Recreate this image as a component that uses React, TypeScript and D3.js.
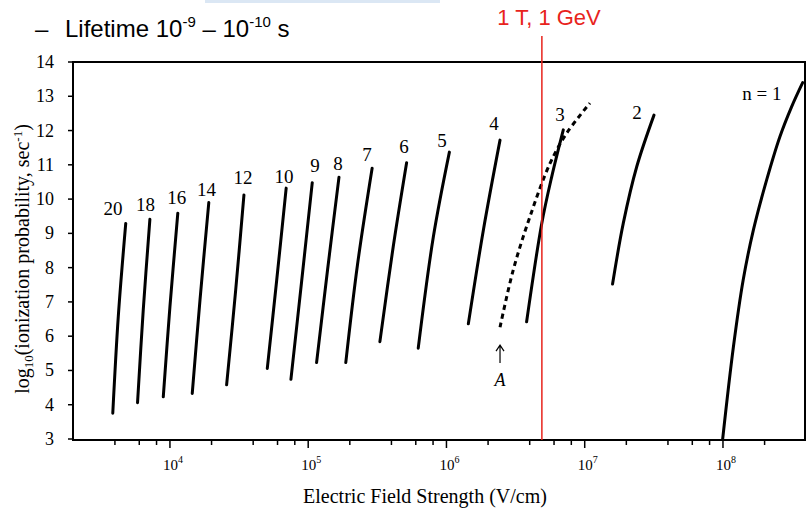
import React from "react";
import * as d3 from "d3";

// ---- data (E in V/cm, log10 ionization rate) ----
const field20 = [3.86e3, 4.23e3, 4.79e3];
const rate20 = [3.75, 6.57, 9.29];
const field18 = [5.83e3, 6.41e3, 7.16e3];
const rate18 = [4.06, 6.76, 9.41];
const field16 = [8.95e3, 1.0e4, 1.14e4];
const rate16 = [4.23, 6.86, 9.59];
const field14 = [1.45e4, 1.65e4, 1.91e4];
const rate14 = [4.33, 7.06, 9.9];
const field12 = [2.57e4, 2.99e4, 3.43e4];
const rate12 = [4.58, 7.35, 10.12];
const field10 = [5.06e4, 5.92e4, 6.93e4];
const rate10 = [5.06, 7.64, 10.32];
const field9 = [7.5e4, 8.97e4, 1.07e5];
const rate9 = [4.74, 7.61, 10.48];
const field8 = [1.15e5, 1.38e5, 1.67e5];
const rate8 = [5.23, 7.93, 10.64];
const field7 = [1.87e5, 2.27e5, 2.9e5];
const rate7 = [5.23, 8.07, 10.9];
const field6 = [3.3e5, 4.12e5, 5.15e5];
const rate6 = [5.84, 8.61, 11.06];
const field5 = [6.25e5, 8.04e5, 1.05e6];
const rate5 = [5.65, 8.9, 11.37];
const field4 = [1.44e6, 1.85e6, 2.44e6];
const rate4 = [6.36, 9.1, 11.72];
const field3 = [3.8e6, 4.89e6, 5.77e6, 7.0e6];
const rate3 = [6.42, 9.29, 10.65, 12.02];
const field2 = [1.59e7, 1.9e7, 2.38e7, 3.17e7];
const rate2 = [7.52, 9.29, 10.95, 12.45];
const field1 = [9.95e7, 1.19e8, 1.4e8, 1.66e8, 2.07e8, 2.58e8, 3.14e8, 3.77e8];
const rate1 = [3.0, 5.69, 7.64, 9.1, 10.56, 11.82, 12.7, 13.4];
// dashed curve "A"
const fieldA = [2.44e6, 3.04e6, 4.02e6, 5.61e6, 7.4e6, 1.09e7];
const rateA = [6.26, 7.93, 9.49, 11.04, 11.92, 12.8];

const solidFields = [field20, field18, field16, field14, field12, field10, field9, field8, field7, field6, field5, field4, field3, field2, field1];
const solidRates = [rate20, rate18, rate16, rate14, rate12, rate10, rate9, rate8, rate7, rate6, rate5, rate4, rate3, rate2, rate1];

// curve labels (text, anchor field, anchor rate)
const labelTexts = ["20", "18", "16", "14", "12", "10", "9", "8", "7", "6", "5", "4", "3", "2", "n = 1"];
const labelFields = [3.87e3, 6.67e3, 1.12e4, 1.84e4, 3.37e4, 6.68e4, 1.12e5, 1.64e5, 2.66e5, 4.93e5, 9.27e5, 2.21e6, 6.62e6, 2.39e7, 1.91e8];
const labelRates = [9.74, 9.83, 10.06, 10.27, 10.62, 10.65, 10.97, 11.05, 11.29, 11.52, 11.72, 12.22, 12.48, 12.54, 13.07];

// arrow pointing at the start of curve A
const arrowField = 2.44e6;
const arrowTipRate = 5.74;
const arrowTailRate = 5.22;
const arrowLabelRate = 4.72;

const markerField = 4.9e6; // "1 T, 1 GeV"
const markerLabel = "1 T, 1 GeV";

const yTicks = [3, 4, 5, 6, 7, 8, 9, 10, 11, 12, 13, 14];
const xMajorExps = [4, 5, 6, 7, 8];
const xMinorMultipliers = [2, 4, 6, 8];

const W = 808;
const H = 512;
const SERIF = "'Liberation Serif', 'Times New Roman', serif";
const SANS = "'Liberation Sans', Arial, sans-serif";

export default function App() {
  const x = d3.scaleLog().domain([1.99e3, 3.92e8]).range([73, 805]);
  const y = d3.scaleLinear().domain([3, 14]).range([439, 62]);

  const line = d3
    .line<[number, number]>()
    .x((d) => x(d[0]))
    .y((d) => y(d[1]))
    .curve(d3.curveCatmullRom.alpha(0.5));

  const toPts = (f: number[], r: number[]) => f.map((e, i) => [e, r[i]] as [number, number]);

  const [d0, d1] = x.domain();
  const minorTicks: number[] = [];
  for (let k = 3; k <= 8; k++) {
    for (const m of xMinorMultipliers) {
      const v = m * Math.pow(10, k);
      if (v > d0 * 1.01 && v < d1 * 0.99) minorTicks.push(v);
    }
  }

  const left = x.range()[0];
  const right = x.range()[1];
  const top = y(14);
  const bottom = 440;

  const ax = x(arrowField);
  const aTip = y(arrowTipRate);
  const aTail = y(arrowTailRate);

  return (
    <svg width={W} height={H} style={{ position: "absolute", left: 0, top: 0, background: "#fff" }}>
      <rect x={0} y={0} width={W} height={H} fill="#fff" />
      <rect x={205} y={0} width={235} height={3} fill="#dbe7f4" />

      {/* slide title */}
      <g fontFamily={SANS} fontSize={24} fill="#000">
        <text x={35} y={37}>–</text>
        <text x={65} y={37}>
          <tspan>Lifetime 10</tspan>
          <tspan fontSize={15} dy={-10}>-9</tspan>
          <tspan dy={10}> – 10</tspan>
          <tspan fontSize={15} dy={-10}>-10</tspan>
          <tspan dy={10}> s</tspan>
        </text>
      </g>

      {/* frame */}
      <rect x={left} y={top} width={right - left} height={bottom - top} fill="none" stroke="#000" strokeWidth={2} />

      {/* y ticks */}
      <g fontFamily={SERIF} fontSize={18} fill="#000">
        {yTicks.map((t) => (
          <g key={t}>
            <line x1={left - 5} x2={left} y1={y(t)} y2={y(t)} stroke="#000" strokeWidth={1.5} />
            <text x={54} y={y(t)} textAnchor="end" dominantBaseline="central">
              {t}
            </text>
          </g>
        ))}
      </g>

      {/* x ticks */}
      <g fontFamily={SERIF} fill="#000">
        {minorTicks.map((t) => (
          <line key={"m" + t} x1={x(t)} x2={x(t)} y1={bottom} y2={bottom + 5} stroke="#000" strokeWidth={1.5} />
        ))}
        {xMajorExps.map((k) => {
          const xv = x(Math.pow(10, k));
          return (
            <g key={"M" + k}>
              <line x1={xv} x2={xv} y1={bottom} y2={bottom + 8} stroke="#000" strokeWidth={1.5} />
              <text x={xv + 3} y={470} textAnchor="middle" fontSize={15}>
                <tspan>10</tspan>
                <tspan fontSize={10} dy={-7}>
                  {k}
                </tspan>
              </text>
            </g>
          );
        })}
      </g>

      {/* axis titles */}
      <text x={425} y={503} textAnchor="middle" fontFamily={SERIF} fontSize={20} fill="#000">
        Electric Field Strength (V/cm)
      </text>
      <text
        transform={`translate(29,259) rotate(-90)`}
        textAnchor="middle"
        fontFamily={SERIF}
        fontSize={20}
        fill="#000"
      >
        <tspan>log</tspan>
        <tspan fontSize={13} dy={4}>10</tspan>
        <tspan dy={-4}>(ionization probability, sec</tspan>
        <tspan fontSize={13} dy={-7}>-1</tspan>
        <tspan dy={7}>)</tspan>
      </text>

      {/* curves */}
      <g fill="none" stroke="#000" strokeWidth={3} strokeLinecap="round">
        {solidFields.map((f, i) => (
          <path key={i} d={line(toPts(f, solidRates[i])) || ""} />
        ))}
        <path d={line(toPts(fieldA, rateA)) || ""} strokeDasharray="5 4" strokeLinecap="butt" />
      </g>

      {/* curve labels */}
      <g fontFamily={SERIF} fontSize={19} fill="#000" textAnchor="middle">
        {labelTexts.map((t, i) => (
          <text key={t} x={x(labelFields[i])} y={y(labelRates[i])} dominantBaseline="central">
            {t}
          </text>
        ))}
        <text x={ax} y={y(arrowLabelRate)} dominantBaseline="central" fontStyle="italic" fontSize={18}>
          A
        </text>
      </g>
      <path
        d={`M${ax},${aTail}L${ax},${aTip}M${ax - 4},${aTip + 6}L${ax},${aTip}L${ax + 4},${aTip + 6}`}
        fill="none"
        stroke="#000"
        strokeWidth={1.2}
      />

      {/* marker line */}
      <line x1={x(markerField)} x2={x(markerField)} y1={36} y2={bottom} stroke="#e8231c" strokeWidth={1.5} />
      <text x={549} y={25} textAnchor="middle" fontFamily={SANS} fontSize={22} fill="#e8231c">
        {markerLabel}
      </text>
    </svg>
  );
}
